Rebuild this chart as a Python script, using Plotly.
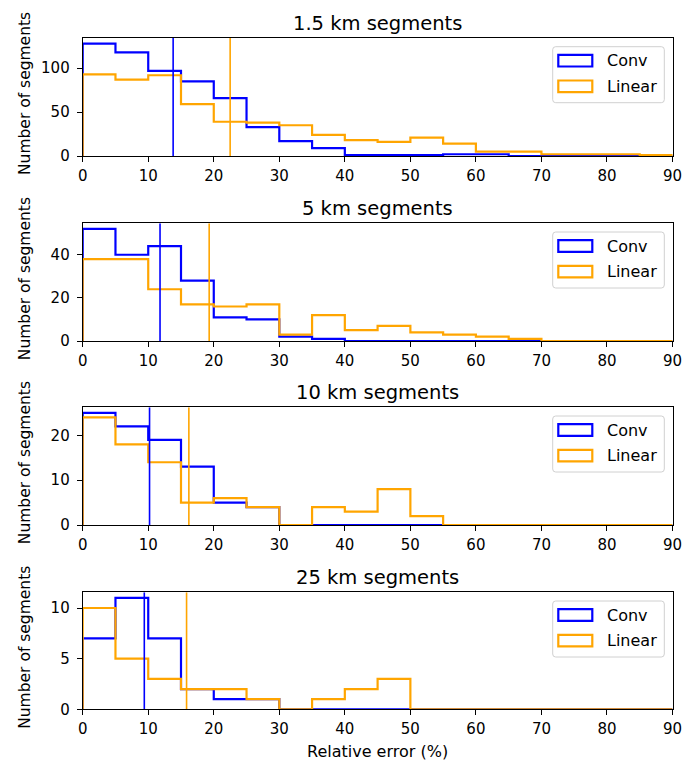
import plotly.graph_objects as go

# ---------------- data ----------------
bin_edges = list(range(0, 95, 5))
panel_titles = ["1.5 km segments", "5 km segments", "10 km segments", "25 km segments"]
series_names = ["Conv", "Linear"]

conv_1_5km = [128, 118, 97, 85, 66, 33, 17, 9, 1, 1, 1, 2, 2, 0, 0, 0, 0, 0]
linear_1_5km = [93, 87, 92, 59, 39, 38, 35, 24, 18, 16, 21, 14, 5, 5, 2, 2, 2, 1]

conv_5km = [52, 40, 44, 28, 11, 10, 2, 1, 0, 0, 0, 0, 0, 0, 0, 0, 0, 0]
linear_5km = [38, 38, 24, 17, 16, 17, 3, 12, 5, 7, 4, 3, 2, 1, 0, 0, 0, 0]

conv_10km = [25, 22, 19, 13, 5, 4, 0, 0, 0, 0, 0, 0, 0, 0, 0, 0, 0, 0]
linear_10km = [24, 18, 14, 5, 6, 4, 0, 4, 3, 8, 2, 0, 0, 0, 0, 0, 0, 0]

conv_25km = [7, 11, 7, 2, 1, 1, 0, 0, 0, 0, 0, 0, 0, 0, 0, 0, 0, 0]
linear_25km = [10, 5, 3, 2, 2, 1, 0, 1, 2, 3, 0, 0, 0, 0, 0, 0, 0, 0]

conv_counts = [conv_1_5km, conv_5km, conv_10km, conv_25km]
linear_counts = [linear_1_5km, linear_5km, linear_10km, linear_25km]

mean_conv = [13.8, 11.8, 10.2, 9.4]
mean_linear = [22.5, 19.3, 16.2, 15.85]

y_dticks = [50, 20, 10, 5]
x_tick_vals = list(range(0, 100, 10))
x_label = "Relative error (%)"
y_label = "Number of segments"

# ---------------- style ----------------
W, H = 683, 760
BLUE = "#0000ff"
ORANGE = "#ffa500"
FONT = "DejaVu Sans"

x_left_px, x_right_px = 82.7, 672.5
panel_px = [(38.0, 156.0), (223.3, 341.0), (407.3, 525.0), (592.3, 709.3)]


def px_x(p):
    return p / W


def px_y(p):
    return 1 - p / H


def step_xy(edges, counts):
    xs = [edges[0]] + list(edges)
    ys = [0] + list(counts) + [0]
    return xs, ys


fig = go.Figure()
layout_axes = {}
shapes = []
annotations = []

for i in range(4):
    n = "" if i == 0 else str(i + 1)
    xa, ya = "x" + n, "y" + n
    top, bot = panel_px[i]
    ymax = 1.05 * max(max(conv_counts[i]), max(linear_counts[i]))

    for counts, color, name in [(conv_counts[i], BLUE, series_names[0]),
                                (linear_counts[i], ORANGE, series_names[1])]:
        xs, ys = step_xy(bin_edges, counts)
        fig.add_trace(go.Scatter(x=xs, y=ys, mode="lines", line_shape="hv",
                                 line=dict(color=color, width=2.2),
                                 name=name, showlegend=False,
                                 xaxis=xa, yaxis=ya, hoverinfo="skip"))
    for m, color in [(mean_conv[i], BLUE), (mean_linear[i], ORANGE)]:
        fig.add_trace(go.Scatter(x=[m, m], y=[0, ymax], mode="lines",
                                 line=dict(color=color, width=1.6),
                                 showlegend=False, xaxis=xa, yaxis=ya,
                                 hoverinfo="skip"))

    layout_axes["xaxis" + n] = dict(
        domain=[px_x(x_left_px), px_x(x_right_px)], anchor=ya,
        range=[bin_edges[0], bin_edges[-1]], tickmode="array",
        tickvals=x_tick_vals, ticks="outside", ticklen=5, tickwidth=1,
        tickcolor="black", showline=True, linecolor="black", linewidth=1,
        mirror=True, showgrid=False, zeroline=False, automargin=False,
        ticklabelstandoff=1,
        tickfont=dict(family=FONT, size=15, color="black"))
    layout_axes["yaxis" + n] = dict(
        domain=[px_y(bot), px_y(top)], anchor=xa,
        range=[0, ymax], tick0=0, dtick=y_dticks[i], ticks="outside",
        ticklen=5, tickwidth=1, tickcolor="black", showline=True,
        linecolor="black", linewidth=1, mirror=True, showgrid=False,
        zeroline=False, automargin=False, ticklabelstandoff=4,
        tickfont=dict(family=FONT, size=15, color="black"))

    # title
    annotations.append(dict(text=panel_titles[i], xref="paper", yref="paper",
                            x=px_x((x_left_px + x_right_px) / 2), y=px_y(top),
                            xanchor="center", yanchor="bottom", yshift=1,
                            showarrow=False,
                            font=dict(family=FONT, size=19.5, color="black")))
    # y label
    annotations.append(dict(text=y_label, xref="paper", yref="paper",
                            x=px_x(25), y=px_y((top + bot) / 2 - 3),
                            xanchor="center", yanchor="middle", textangle=-90,
                            showarrow=False,
                            font=dict(family=FONT, size=15.5, color="black")))

    # legend box (rounded)
    bx0, bx1 = 552.7, 664.3
    by0, by1 = top + 8.7, top + 64.7
    r = 3
    path = (f"M {px_x(bx0 + r)},{px_y(by0)} L {px_x(bx1 - r)},{px_y(by0)} "
            f"Q {px_x(bx1)},{px_y(by0)} {px_x(bx1)},{px_y(by0 + r)} "
            f"L {px_x(bx1)},{px_y(by1 - r)} "
            f"Q {px_x(bx1)},{px_y(by1)} {px_x(bx1 - r)},{px_y(by1)} "
            f"L {px_x(bx0 + r)},{px_y(by1)} "
            f"Q {px_x(bx0)},{px_y(by1)} {px_x(bx0)},{px_y(by1 - r)} "
            f"L {px_x(bx0)},{px_y(by0 + r)} "
            f"Q {px_x(bx0)},{px_y(by0)} {px_x(bx0 + r)},{px_y(by0)} Z")
    shapes.append(dict(type="path", path=path, xref="paper", yref="paper",
                       line=dict(color="#d0d0d0", width=1),
                       fillcolor="rgba(255,255,255,0.8)", layer="above"))
    for k, (name, color) in enumerate(zip(series_names, [BLUE, ORANGE])):
        cy = top + 22.7 + k * 25.6
        shapes.append(dict(type="rect", xref="paper", yref="paper",
                           x0=px_x(558.3), x1=px_x(592.3),
                           y0=px_y(cy - 5.8), y1=px_y(cy + 5.8),
                           line=dict(color=color, width=2.2),
                           fillcolor="rgba(0,0,0,0)", layer="above"))
        annotations.append(dict(text=name, xref="paper", yref="paper",
                                x=px_x(604.5), y=px_y(cy), xanchor="left",
                                yanchor="middle", showarrow=False,
                                font=dict(family=FONT, size=16, color="black")))

annotations.append(dict(text=x_label, xref="paper", yref="paper",
                        x=px_x((x_left_px + x_right_px) / 2), y=px_y(751),
                        xanchor="center", yanchor="middle", showarrow=False,
                        font=dict(family=FONT, size=16, color="black")))

fig.update_layout(width=W, height=H, margin=dict(l=0, r=0, t=0, b=0, pad=0,
                                                 autoexpand=False),
                  paper_bgcolor="white", plot_bgcolor="white",
                  showlegend=False, shapes=shapes, annotations=annotations,
                  font=dict(family=FONT, color="black"), **layout_axes)

fig.write_html("out.html")
